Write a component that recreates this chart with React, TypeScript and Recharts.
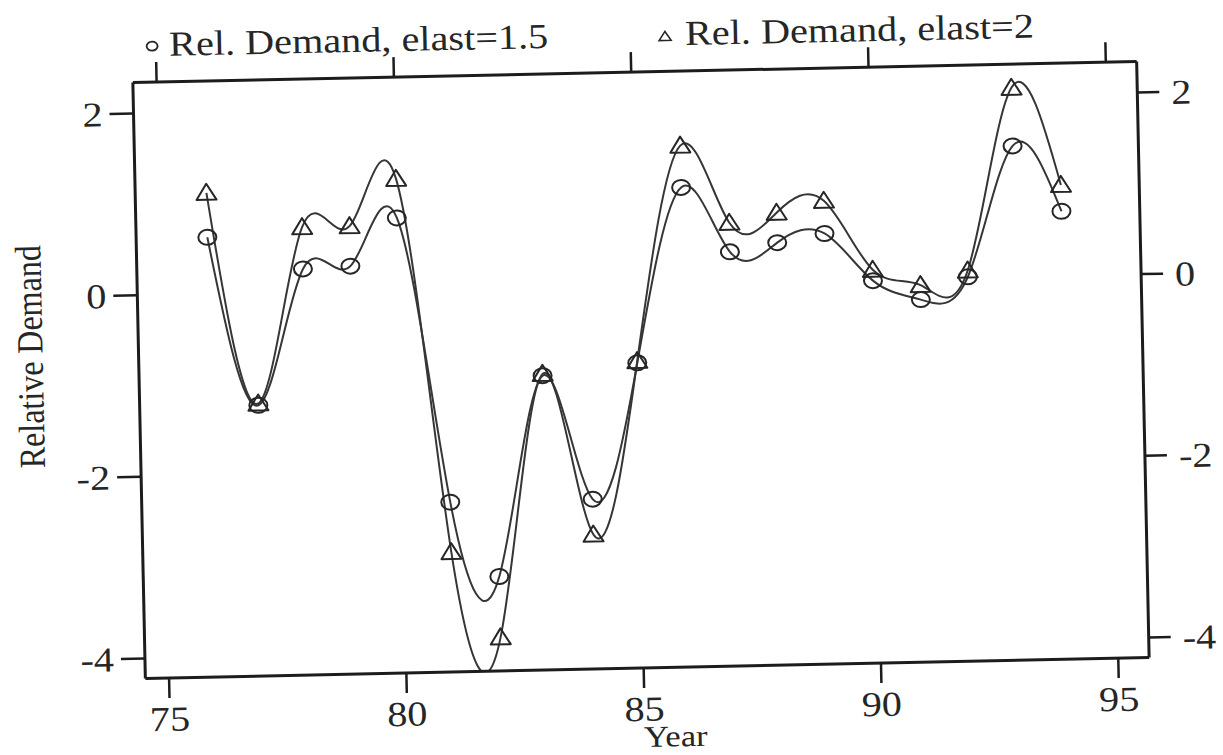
import { Customized, Line, LineChart, XAxis, YAxis } from "recharts";

// years on the x axis
const years = [76, 77, 78, 79, 80, 81, 82, 83, 84, 85, 86, 87, 88, 89, 90, 91, 92, 93, 94];
// Rel. Demand, elast=1.5 (circles)
const elast15 = [0.62, -1.24, 0.25, 0.27, 0.79, -2.35, -3.18, -0.98, -2.35, -0.86, 1.06, 0.34, 0.43, 0.52, -0.01, -0.23, 0.01, 1.44, 0.71];
// Rel. Demand, elast=2 (triangles)
const elast2 = [1.11, -1.22, 0.71, 0.71, 1.22, -2.9, -3.85, -0.96, -2.74, -0.84, 1.52, 0.66, 0.76, 0.88, 0.11, -0.07, 0.08, 2.08, 1.0];

const yearTicks = [75, 80, 85, 90, 95];
const demandTicks = [-4, -2, 0, 2];
const legendLabels = ["Rel. Demand, elast=1.5", "Rel. Demand, elast=2"];

const data = years.map((year, i) => ({ year, e15: elast15[i], e2: elast2[i] }));

const INK = "#262626";
const LINE = "#363636";
const FONT = "'Liberation Serif', 'Times New Roman', serif";
const STRETCH = 1.15; // the scan is a bit wide

const TickLabel = ({ x, y, payload, anchor, dy }: any) => (
  <text
    transform={`translate(${x},${y}) scale(${STRETCH},1)`}
    textAnchor={anchor}
    dy={dy}
    fontFamily={FONT}
    fontSize={35}
    fill={INK}
  >
    {payload.value}
  </text>
);

const NoLabel = () => <g />;

const CircleDot = (props: any) => {
  const { cx, cy, index } = props;
  if (cx == null || cy == null) return <g key={`c-${index}`} />;
  return <ellipse key={`c-${index}`} cx={cx} cy={cy} rx={9} ry={7.5} fill="none" stroke={INK} strokeWidth={2} />;
};

const TriangleDot = (props: any) => {
  const { cx, cy, index } = props;
  if (cx == null || cy == null) return <g key={`t-${index}`} />;
  const d = `M${cx},${cy - 9} L${cx + 10},${cy + 7} L${cx - 10},${cy + 7} Z`;
  return <path key={`t-${index}`} d={d} fill="none" stroke={INK} strokeWidth={2} strokeLinejoin="round" />;
};

const Annotations = () => (
  <g fontFamily={FONT} fill={INK}>
    <ellipse cx={159} cy={36} rx={5.5} ry={4.5} fill="none" stroke={INK} strokeWidth={1.8} />
    <text transform={`translate(176,46) scale(${STRETCH},1)`} fontSize={35}>
      {legendLabels[0]}
    </text>
    <path d="M672,32 L678,41 L666,41 Z" fill="none" stroke={INK} strokeWidth={1.6} />
    <text transform={`translate(692,46) scale(${STRETCH},1)`} fontSize={35}>
      {legendLabels[1]}
    </text>
    <text transform={`translate(43,344) scale(${STRETCH},1) rotate(-90)`} textAnchor="middle" fontSize={32}>
      Relative Demand
    </text>
    <text transform={`translate(668,747) scale(${STRETCH},1)`} textAnchor="middle" fontSize={30}>
      Year
    </text>
  </g>
);

const axisLine = { stroke: "#1c1c1c", strokeWidth: 3 };
const tickLine = { stroke: "#1c1c1c", strokeWidth: 2.5 };

export default function App() {
  return (
    <div style={{ position: "absolute", left: 0, top: 0, width: 1223, height: 755, overflow: "hidden", background: "#ffffff" }}>
      <div style={{ transform: "rotate(-1.2deg)", transformOrigin: "641px 370px" }}>
        <LineChart width={1223} height={755} data={data} margin={{ top: 32, right: 0, bottom: 0, left: 39 }}>
          <XAxis
            xAxisId="bottom"
            dataKey="year"
            type="number"
            domain={[74.5, 95.65]}
            allowDataOverflow
            ticks={yearTicks}
            height={87}
            axisLine={axisLine}
            tickLine={tickLine}
            tickSize={20}
            tickMargin={8}
            tick={(p: any) => <TickLabel {...p} anchor="middle" dy="0.71em" />}
          />
          <XAxis
            xAxisId="top"
            orientation="top"
            dataKey="year"
            type="number"
            domain={[74.5, 95.65]}
            allowDataOverflow
            ticks={yearTicks}
            height={40}
            axisLine={axisLine}
            tickLine={tickLine}
            tickSize={20}
            tick={NoLabel}
          />
          <YAxis
            yAxisId="left"
            type="number"
            domain={[-4.22, 2.34]}
            allowDataOverflow
            ticks={demandTicks}
            width={100}
            axisLine={axisLine}
            tickLine={tickLine}
            tickSize={24}
            tickMargin={7}
            tick={(p: any) => <TickLabel {...p} anchor="end" dy="0.35em" />}
          />
          <YAxis
            yAxisId="right"
            orientation="right"
            type="number"
            domain={[-4.22, 2.34]}
            allowDataOverflow
            ticks={demandTicks}
            width={80}
            axisLine={axisLine}
            tickLine={tickLine}
            tickSize={22}
            tickMargin={12}
            tick={(p: any) => <TickLabel {...p} anchor="start" dy="0.35em" />}
          />
          <Line
            xAxisId="bottom"
            yAxisId="left"
            type="natural"
            dataKey="e15"
            stroke={LINE}
            strokeWidth={2}
            dot={CircleDot}
            activeDot={false}
            isAnimationActive={false}
          />
          <Line
            xAxisId="bottom"
            yAxisId="left"
            type="natural"
            dataKey="e2"
            stroke={LINE}
            strokeWidth={2}
            dot={TriangleDot}
            activeDot={false}
            isAnimationActive={false}
          />
          <Customized component={Annotations} />
        </LineChart>
      </div>
    </div>
  );
}
